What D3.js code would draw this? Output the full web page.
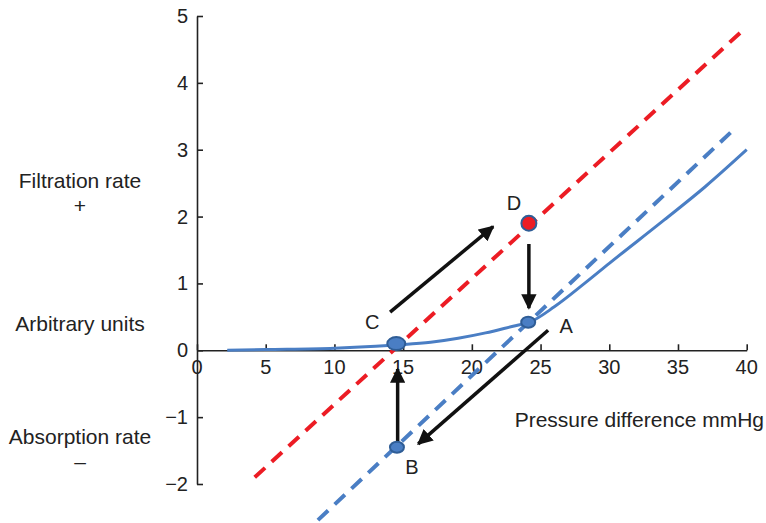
<!DOCTYPE html>
<html>
<head>
<meta charset="utf-8">
<script src="https://cdn.jsdelivr.net/npm/d3@7"></script>
<style>
  body { margin: 0; background: #fff; }
  svg { display: block; font-family: "Liberation Sans", Arial, sans-serif; }
</style>
</head>
<body>
<div id="chart"></div>
<script>
// Starling curve style diagram: filtration / absorption vs pressure difference
const xTicks = [0, 5, 10, 15, 20, 25, 30, 35, 40];
const yTicks = [-2, -1, 0, 1, 2, 3, 4, 5];

// solid blue curve (x, y)
const curveX = [2.2, 5, 10, 13, 14.5, 17, 19, 21, 23, 24.2, 26, 28.2, 30, 34, 37, 40];
const curveY = [0, 0.01, 0.03, 0.06, 0.08, 0.12, 0.18, 0.26, 0.36, 0.42, 0.65, 1.0, 1.3, 1.95, 2.45, 3.0];

// dashed straight lines: [x start, y start, x end, y end]
const blueDash = [8.8, -2.54, 39.0, 3.29];
const redDash = [4.2, -1.9, 39.9, 4.82];

// labelled points
const pointNames = ["C", "A", "D", "B"];
const pointX = [14.5, 24.1, 24.15, 14.55];
const pointY = [0.1, 0.42, 1.9, -1.45];

// arrows: [x1, y1, x2, y2]
const arrows = [
  [14.05, 0.57, 21.55, 1.85], // C -> D
  [24.15, 1.59, 24.15, 0.63], // D -> A
  [25.55, 0.3, 16.1, -1.4],   // A -> B
  [14.6, -1.38, 14.6, -0.28]  // B -> C
];

const width = 766, height = 523;
const blue = "#4a7ec4", red = "#ec1c24";

const x = d3.scaleLinear().domain([0, 40]).range([197, 746.7]);
const y = d3.scaleLinear().domain([-2, 5]).range([484, 16]);

const svg = d3.select("#chart").append("svg")
  .attr("width", width)
  .attr("height", height)
  .attr("viewBox", [0, 0, width, height]);

svg.append("defs").append("marker")
  .attr("id", "head")
  .attr("viewBox", "0 0 10 10")
  .attr("refX", 9).attr("refY", 5)
  .attr("markerWidth", 4.4).attr("markerHeight", 4.4)
  .attr("markerUnits", "strokeWidth")
  .attr("orient", "auto")
  .append("path")
  .attr("d", "M0,0 L10,5 L0,10 z")
  .attr("fill", "#111");

// x axis along y = 0, ticks pointing up
svg.append("g")
  .attr("transform", `translate(0,${y(0)})`)
  .call(d3.axisTop(x).tickValues(xTicks).tickSize(6).tickSizeOuter(0).tickFormat(""));
svg.append("g").selectAll("text")
  .data(xTicks)
  .join("text")
  .attr("x", d => x(d))
  .attr("y", y(0) + 24)
  .attr("text-anchor", "middle")
  .attr("font-size", 20)
  .attr("fill", "#222")
  .text(d => d);

// y axis at x = 0, ticks pointing right
svg.append("g")
  .attr("transform", `translate(${x(0)},0)`)
  .call(d3.axisRight(y).tickValues(yTicks).tickSize(6).tickSizeOuter(0).tickFormat(""));
svg.append("g").selectAll("text")
  .data(yTicks)
  .join("text")
  .attr("x", x(0) - 9)
  .attr("y", d => y(d) + 7)
  .attr("text-anchor", "end")
  .attr("font-size", 20)
  .attr("fill", "#222")
  .text(d => d < 0 ? "\u2212" + Math.abs(d) : d);

svg.selectAll(".domain, .tick line")
  .attr("stroke", "#222")
  .attr("stroke-width", 1.6);

// dashed lines
svg.append("line")
  .attr("x1", x(redDash[0])).attr("y1", y(redDash[1]))
  .attr("x2", x(redDash[2])).attr("y2", y(redDash[3]))
  .attr("stroke", red).attr("stroke-width", 4)
  .attr("stroke-dasharray", "14,9");

svg.append("line")
  .attr("x1", x(blueDash[0])).attr("y1", y(blueDash[1]))
  .attr("x2", x(blueDash[2])).attr("y2", y(blueDash[3]))
  .attr("stroke", blue).attr("stroke-width", 4)
  .attr("stroke-dasharray", "14,9");

// solid curve
const line = d3.line()
  .x(d => x(d[0]))
  .y(d => y(d[1]))
  .curve(d3.curveMonotoneX);

svg.append("path")
  .datum(curveX.map((v, i) => [v, curveY[i]]))
  .attr("d", line)
  .attr("fill", "none")
  .attr("stroke", blue)
  .attr("stroke-width", 3);

// arrows
svg.append("g").selectAll("line")
  .data(arrows)
  .join("line")
  .attr("x1", d => x(d[0])).attr("y1", d => y(d[1]))
  .attr("x2", d => x(d[2])).attr("y2", d => y(d[3]))
  .attr("stroke", "#111")
  .attr("stroke-width", 3.5)
  .attr("marker-end", "url(#head)");

// points
const pts = pointNames.map((n, i) => ({ name: n, x: pointX[i], y: pointY[i] }));
const sizes = { C: [9, 6.5], A: [7, 5.5], D: [7.5, 7.5], B: [7, 5.5] };
svg.append("g").selectAll("ellipse")
  .data(pts)
  .join("ellipse")
  .attr("cx", d => x(d.x))
  .attr("cy", d => y(d.y))
  .attr("rx", d => sizes[d.name][0])
  .attr("ry", d => sizes[d.name][1])
  .attr("fill", d => d.name === "D" ? red : blue)
  .attr("stroke", "#2f5d96")
  .attr("stroke-width", 2);

// point labels
const labelOffset = { C: [-24, -15], A: [38, 11], D: [-15, -13], B: [15, 27] };
svg.append("g").selectAll("text")
  .data(pts)
  .join("text")
  .attr("x", d => x(d.x) + labelOffset[d.name][0])
  .attr("y", d => y(d.y) + labelOffset[d.name][1])
  .attr("text-anchor", "middle")
  .attr("font-size", 20)
  .attr("fill", "#222")
  .text(d => d.name);

// axis titles
svg.append("text")
  .attr("x", 764).attr("y", 427)
  .attr("text-anchor", "end")
  .attr("font-size", 21)
  .attr("fill", "#222")
  .text("Pressure difference mmHg");

const sideLabels = [
  ["Filtration rate", 188],
  ["+", 213],
  ["Arbitrary units", 331],
  ["Absorption rate", 444],
  ["\u2013", 469]
];
svg.append("g").selectAll("text")
  .data(sideLabels)
  .join("text")
  .attr("x", 80)
  .attr("y", d => d[1])
  .attr("text-anchor", "middle")
  .attr("font-size", 21)
  .attr("fill", "#222")
  .text(d => d[0]);
</script>
</body>
</html>
